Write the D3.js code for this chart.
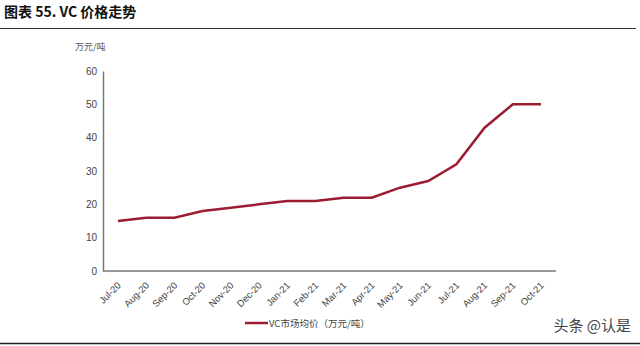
<!DOCTYPE html>
<html><head><meta charset="utf-8">
<script src="https://cdn.jsdelivr.net/npm/d3@7"></script>
<style>body{margin:0;background:#fff;}svg{display:block;font-family:"Liberation Sans",Arial,sans-serif;}</style>
</head><body><svg id="c" width="640" height="346"></svg>
<script>
const categories = ["Jul-20","Aug-20","Sep-20","Oct-20","Nov-20","Dec-20","Jan-21","Feb-21","Mar-21","Apr-21","May-21","Jun-21","Jul-21","Aug-21","Sep-21","Oct-21"];
const values = [15,16,16,18,19,20,21,21,22,22,25,27,32,43,50,50];
const yTicks = [0,10,20,30,40,50,60];
const seriesName = "VC市场均价（万元/吨）";

const svg = d3.select("#c");
// title
svg.append("text").attr("x",4).attr("y",17).attr("font-size",14).attr("font-weight","bold")
  .attr("font-family","'Noto Sans CJK SC',sans-serif").attr("fill","#111").text("图表 55. VC 价格走势");
svg.append("line").attr("x1",0).attr("x2",636).attr("y1",28.5).attr("y2",28.5).attr("stroke","#333").attr("stroke-width",1.2);
svg.append("line").attr("x1",0).attr("x2",640).attr("y1",343.5).attr("y2",343.5).attr("stroke","#222").attr("stroke-width",1.5);

svg.append("text").attr("x",75).attr("y",50).attr("font-size",9).attr("fill","#555")
  .attr("font-family","'Noto Sans CJK SC',sans-serif").text("万元/吨");

const x = d3.scalePoint().domain(categories).range([118,541]);
const y = d3.scaleLinear().domain([0,60]).range([271,71]);

// y axis
const ya = svg.append("g").attr("transform","translate(103,0)")
  .call(d3.axisLeft(y).tickValues(yTicks).tickSize(0).tickPadding(6));
ya.select(".domain").attr("stroke","#777").attr("stroke-width",1.5);
ya.selectAll("text").attr("font-size",10).attr("fill","#444");

// x axis
const xa = svg.append("g").attr("transform","translate(0,271)")
  .call(d3.axisBottom(x).tickSize(0).tickPadding(0));
xa.select(".domain").remove();
svg.append("line").attr("x1",103).attr("x2",556).attr("y1",271).attr("y2",271).attr("stroke","#777").attr("stroke-width",1.5);
xa.selectAll("text").attr("font-size",9.5).attr("fill","#444")
  .attr("text-anchor","end").attr("dy",0)
  .attr("transform","translate(3,15) rotate(-45)");

// line
svg.append("path").datum(values)
  .attr("d", d3.line().x((d,i)=>x(categories[i])).y(d=>y(d)))
  .attr("fill","none").attr("stroke","#9c1c31").attr("stroke-width",2.5);

// legend
svg.append("line").attr("x1",245).attr("x2",268).attr("y1",323).attr("y2",323).attr("stroke","#9c1c31").attr("stroke-width",2.5);
svg.append("text").attr("x",269).attr("y",327).attr("font-size",9.5).attr("fill","#444")
  .attr("font-family","'Noto Sans CJK SC',sans-serif").text(seriesName);

// watermark
svg.append("text").attr("x",631).attr("y",331).attr("text-anchor","end").attr("font-size",15).attr("fill","#444")
  .attr("font-family","'Noto Sans CJK SC',sans-serif").text("头条 @认是");
</script></body></html>
